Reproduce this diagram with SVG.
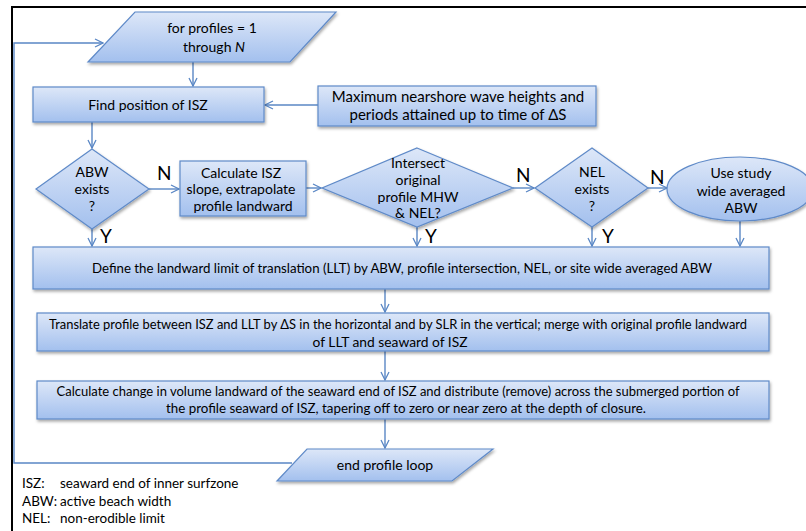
<svg xmlns="http://www.w3.org/2000/svg" width="806" height="531" viewBox="0 0 806 531">
<defs>
<linearGradient id="g" x1="0" y1="0" x2="0" y2="1">
<stop offset="0" stop-color="#dde7f8"/>
<stop offset="1" stop-color="#a3c0ee"/>
</linearGradient>
<filter id="sh" x="-10%" y="-10%" width="120%" height="140%">
<feDropShadow dx="1" dy="2" stdDeviation="1.5" flood-color="#000" flood-opacity="0.35"/>
</filter>
<marker id="ah" viewBox="0 0 10 10" refX="9" refY="5" markerWidth="10" markerHeight="10" markerUnits="userSpaceOnUse" orient="auto">
<path d="M1,1 L9,5 L1,9" fill="none" stroke="#5a87c5" stroke-width="1.3"/>
</marker>
</defs>
<style>
.s{fill:url(#g);stroke:#5f8ac8;stroke-width:1.2;filter:url(#sh)}
.c{fill:none;stroke:#5a87c5;stroke-width:1.4;marker-end:url(#ah)}
.t{font-family:Lato,"Liberation Sans",sans-serif;font-size:14px;fill:#000;text-anchor:middle}
.l{font-family:Lato,"Liberation Sans",sans-serif;font-size:19px;fill:#000}
.g{font-family:Lato,"Liberation Sans",sans-serif;font-size:13.5px;fill:#000}
</style>
<rect x="0" y="0" width="806" height="531" fill="#fff"/>
<rect x="12" y="7" width="820" height="540" fill="none" stroke="#000" stroke-width="2"/>

<g id="connectors">
<polyline class="c" points="292,463 14,463 14,43 103,43"/>
<line class="c" x1="193" y1="62" x2="193" y2="86"/>
<line class="c" x1="318" y1="105" x2="265" y2="105"/>
<line class="c" x1="92" y1="122" x2="92" y2="148"/>
<line class="c" x1="149" y1="189" x2="179" y2="189"/>
<line class="c" x1="306" y1="188" x2="321" y2="188"/>
<line class="c" x1="513" y1="188" x2="534" y2="188"/>
<line class="c" x1="648" y1="188" x2="667" y2="188"/>
<line class="c" x1="92" y1="229" x2="92" y2="246"/>
<line class="c" x1="417" y1="227" x2="417" y2="246"/>
<line class="c" x1="592" y1="227" x2="592" y2="246"/>
<line class="c" x1="740" y1="221" x2="740" y2="246"/>
<line class="c" x1="385" y1="289" x2="385" y2="312"/>
<line class="c" x1="385" y1="351" x2="385" y2="380"/>
<line class="c" x1="385" y1="419" x2="385" y2="448"/>
<text class="l" x="157" y="180">N</text>
<text class="l" x="516" y="182">N</text>
<text class="l" x="650" y="184">N</text>
<text class="l" x="100" y="243">Y</text>
<text class="l" x="425" y="243">Y</text>
<text class="l" x="602" y="243">Y</text>
</g>

<g id="n_start">
<polygon class="s" points="135,12 336,12 290,62 88,62"/>
<text class="t" x="212" y="33">for profiles = 1</text>
<text class="t" x="214" y="52">through <tspan font-style="italic">N</tspan></text>
</g>

<g id="n_find">
<rect class="s" x="33" y="87" width="231" height="35"/>
<text class="t" x="148" y="110">Find position of ISZ</text>
</g>

<g id="n_max">
<rect class="s" x="318" y="86" width="278" height="40"/>
<text class="t" x="458" y="102" style="font-size:15px">Maximum nearshore wave heights and</text>
<text class="t" x="458" y="120" style="font-size:15px">periods attained up to time of ΔS</text>
</g>

<g id="d_abw">
<polygon class="s" points="92,149 149,189 92,229 36,189"/>
<text class="t" x="92" y="177">ABW</text>
<text class="t" x="92" y="194">exists</text>
<text class="t" x="92" y="211">?</text>
</g>

<g id="n_calc">
<rect class="s" x="180" y="161" width="126" height="55"/>
<text class="t" x="241" y="178">Calculate ISZ</text>
<text class="t" x="241" y="194">slope, extrapolate</text>
<text class="t" x="243" y="211">profile landward</text>
</g>

<g id="d_int">
<polygon class="s" points="417,148 513,188 417,227 322,188"/>
<text class="t" x="418" y="168">Intersect</text>
<text class="t" x="418" y="185">original</text>
<text class="t" x="418" y="202">profile  MHW</text>
<text class="t" x="418" y="218">&amp; NEL?</text>
</g>

<g id="d_nel">
<polygon class="s" points="592,148 648,188 592,227 535,188"/>
<text class="t" x="592" y="177">NEL</text>
<text class="t" x="592" y="194">exists</text>
<text class="t" x="592" y="211">?</text>
</g>

<g id="e_use">
<ellipse class="s" cx="740" cy="189" rx="73" ry="32"/>
<text class="t" x="741" y="178">Use study</text>
<text class="t" x="741" y="196">wide averaged</text>
<text class="t" x="741" y="213">ABW</text>
</g>

<g id="n_define">
<rect class="s" x="33" y="247" width="736" height="42"/>
<text class="t" x="402" y="273" textLength="620" lengthAdjust="spacingAndGlyphs">Define the landward limit of translation (LLT) by ABW, profile intersection, NEL, or site wide averaged  ABW</text>
</g>

<g id="n_translate">
<rect class="s" x="37" y="313" width="732" height="38"/>
<text class="t" x="398" y="329" textLength="698" lengthAdjust="spacingAndGlyphs">Translate profile between ISZ and LLT by ΔS in the horizontal and by SLR in the vertical; merge with original profile landward</text>
<text class="t" x="390" y="347" textLength="155" lengthAdjust="spacingAndGlyphs">of LLT and seaward of ISZ</text>
</g>

<g id="n_change">
<rect class="s" x="37" y="381" width="732" height="38"/>
<text class="t" x="398" y="396" textLength="683" lengthAdjust="spacingAndGlyphs">Calculate change in volume landward of the seaward end of ISZ and distribute (remove) across the submerged portion of</text>
<text class="t" x="406" y="413" textLength="480" lengthAdjust="spacingAndGlyphs">the profile seaward of ISZ, tapering off to zero or near zero at the depth of closure.</text>
</g>

<g id="n_end">
<polygon class="s" points="307,449 493,449 452,481 277,481"/>
<text class="t" x="385" y="470">end profile loop</text>
</g>

<g id="legend">
<text class="g" x="22" y="488">ISZ:</text>
<text class="g" x="60" y="488">seaward end of inner surfzone</text>
<text class="g" x="22" y="506">ABW:</text>
<text class="g" x="60" y="506">active beach width</text>
<text class="g" x="22" y="523">NEL:</text>
<text class="g" x="60" y="523">non-erodible limit</text>
</g>
</svg>
